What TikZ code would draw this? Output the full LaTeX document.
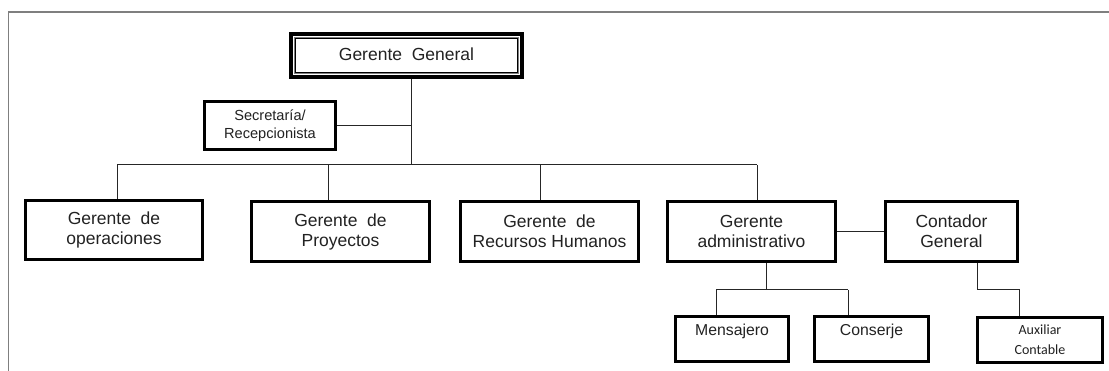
\documentclass[tikz,border=0pt]{standalone}
\usepackage{fontspec}
\usetikzlibrary{calc}
\setmainfont{Liberation Sans}
\newfontfamily\calfont{Carlito}
\definecolor{ink}{HTML}{222222}
\definecolor{rule}{HTML}{7F7F7F}
\tikzset{
  unitbox/.style={draw=black, line width=3pt, fill=white, inner sep=0pt,
    align=center, text=ink, font=\fontsize{17.5}{20}\selectfont},
  smallbox/.style={unitbox, font=\fontsize{15.8}{18}\selectfont},
  link/.style={draw=black!85, line width=1pt},
  frameline/.style={draw=rule, line width=1.6pt}
}
\begin{document}
\begin{tikzpicture}[x=1pt, y=-1pt]
\useasboundingbox (0,0) rectangle (1109,371);

% outer frame (top and left edges only)
\draw[frameline] (8.5,371) -- (8.5,12) -- (1109,12);

% top: Gerente General with a thick-thin double border
\node[unitbox, line width=4pt, minimum width=231pt, minimum height=43pt]
  (gg) at (406.5,55.5) {\raisebox{3pt}{Gerente\ \ General}};
\draw[rule, line width=1.3pt] ($(gg.north west)+(5.5,5.5)$) rectangle ($(gg.south east)+(-5.5,-5.5)$);
\draw[black, line width=0.7pt] ($(gg.north west)+(6.8,6.8)$) rectangle ($(gg.south east)+(-6.8,-6.8)$);

% staff position
\node[unitbox, minimum width=131pt, minimum height=48pt,
  font=\fontsize{14.6}{18}\selectfont] (sec) at (270,125.5) {Secretaría/\\Recepcionista};

% second level
\node[unitbox, minimum width=177pt, minimum height=59pt] (ope) at (114,230) {Gerente\ \ de\\operaciones};
\node[unitbox, minimum width=178pt, minimum height=60pt] (pro) at (340.5,231.5) {Gerente\ \ de\\Proyectos};
\node[unitbox, minimum width=178pt, minimum height=60pt] (rh)  at (549.5,231.5) {Gerente\ \ de\\Recursos Humanos};
\node[unitbox, minimum width=168pt, minimum height=60pt] (adm) at (751.5,231.5) {Gerente\\administrativo};
\node[unitbox, minimum width=132pt, minimum height=60pt] (con) at (951.5,231.5) {Contador\\General};

% third level
\node[smallbox, minimum width=113pt, minimum height=45pt] (men) at (732,339) {Mensajero\\\mbox{}};
\node[smallbox, minimum width=114pt, minimum height=45pt] (cnj) at (871.5,339) {Conserje\\\mbox{}};
\node[unitbox, minimum width=125pt, minimum height=45pt,
  font=\calfont\fontsize{14}{20}\selectfont] (aux) at (1040,340) {Auxiliar\\Contable};

% connectors: main trunk and bus
\coordinate (trunk) at (411,165);
\coordinate (d1) at (117,165);
\coordinate (d2) at (328,165);
\coordinate (d3) at (540,165);
\coordinate (d4) at (757,165);
\draw[link] (gg.south -| trunk) -- (trunk);
\draw[link] (sec.east) -- (sec.east -| trunk);
\draw[link] (d1) -- (d4);
\draw[link] (d1) -- (d1 |- ope.north);
\draw[link] (d2) -- (d2 |- pro.north);
\draw[link] (d3) -- (d3 |- rh.north);
\draw[link] (d4) -- (d4 |- adm.north);

% administration branch
\draw[link] (adm.east |- 0,232) -- (con.west |- 0,232);
\coordinate (ab) at (766,290);
\coordinate (am) at (716,290);
\coordinate (ac) at (848,290);
\draw[link] (adm.south -| ab) -- (ab);
\draw[link] (am) -- (ac);
\draw[link] (am) -- (am |- men.north);
\draw[link] (ac) -- (ac |- cnj.north);

% accounting branch
\coordinate (cb) at (977,290);
\coordinate (cx) at (1019,290);
\draw[link] (con.south -| cb) -- (cb) -- (cx) -- (cx |- aux.north);
\end{tikzpicture}
\end{document}
